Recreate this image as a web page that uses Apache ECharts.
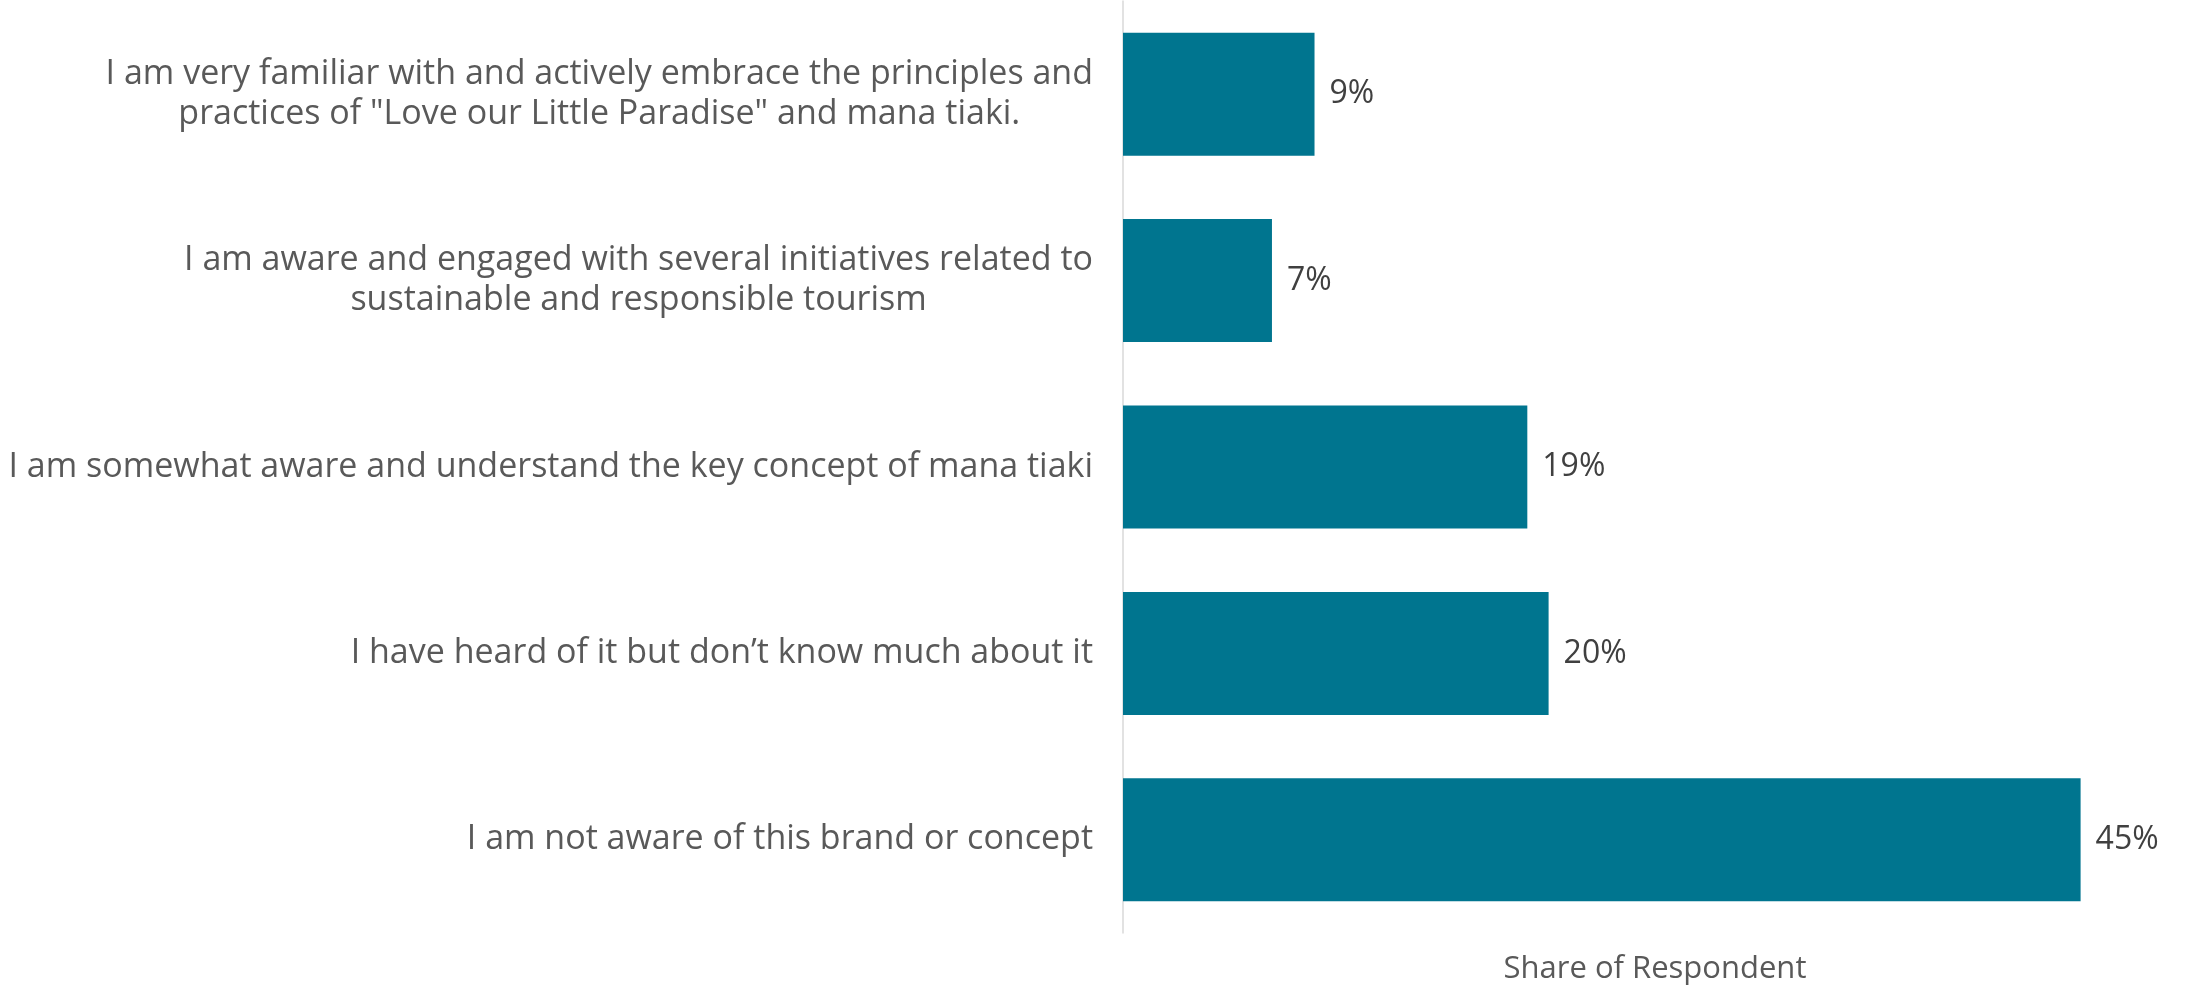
<!DOCTYPE html>
<html>
<head>
<meta charset="utf-8">
<title>Awareness of "Love our Little Paradise" and mana tiaki</title>
<script src="https://cdn.jsdelivr.net/npm/echarts@6/dist/echarts.min.js"></script>
<style>
  html, body { margin: 0; padding: 0; background: #ffffff; }
  #chart { width: 2187px; height: 990px; }
</style>
</head>
<body>
<div id="chart"></div>
<script>
// Survey answers, top to bottom
const categories = [
  'I am very familiar with and actively embrace the principles and\npractices of "Love our Little Paradise" and mana tiaki.',
  'I am aware and engaged with several initiatives related to\nsustainable and responsible tourism',
  'I am somewhat aware and understand the key concept of mana tiaki',
  'I have heard of it but don\u2019t know much about it',
  'I am not aware of this brand or concept'
];

// Share of respondents, in percent
const shares = [9, 7, 19, 20, 45];

const axisTitle = 'Share of Respondent';

const FONT = '"Open Sans", "Noto Sans", sans-serif';

const chart = echarts.init(document.getElementById('chart'), null, { renderer: 'canvas' });

chart.setOption({
  animation: false,
  backgroundColor: '#ffffff',
  grid: { left: 1123, top: 1, width: 1088, height: 950, containLabel: false },
  xAxis: {
    type: 'value',
    min: 0,
    max: 50,
    name: axisTitle,
    nameLocation: 'middle',
    nameGap: 21,
    nameTextStyle: { fontFamily: FONT, fontSize: 31, color: '#595959' },
    axisLine: { show: false },
    axisTick: { show: false },
    axisLabel: { show: false },
    splitLine: { show: false }
  },
  yAxis: {
    type: 'category',
    inverse: true,
    data: categories,
    axisLine: { show: true, lineStyle: { color: '#d9d9d9', width: 1.5 } },
    axisTick: { show: false },
    axisLabel: {
      margin: 30,
      fontFamily: FONT,
      fontSize: 34,
      lineHeight: 40,
      color: '#595959',
      align: 'right',
      // each line of a wrapped answer is centred under the one above it
      formatter: function (v) {
        return v.split('\n').map(function (l) { return '{c|' + l + '}'; }).join('\n');
      },
      rich: {
        c: { align: 'center', fontFamily: FONT, fontSize: 34, lineHeight: 40, color: '#595959' }
      }
    }
  },
  series: [{
    type: 'bar',
    data: shares,
    barCategoryGap: '34%',
    itemStyle: { color: '#00758f' },
    label: {
      show: true,
      position: 'right',
      distance: 15,
      formatter: '{c}%',
      fontFamily: FONT,
      fontSize: 32,
      color: '#404040'
    }
  }]
});
</script>
</body>
</html>
